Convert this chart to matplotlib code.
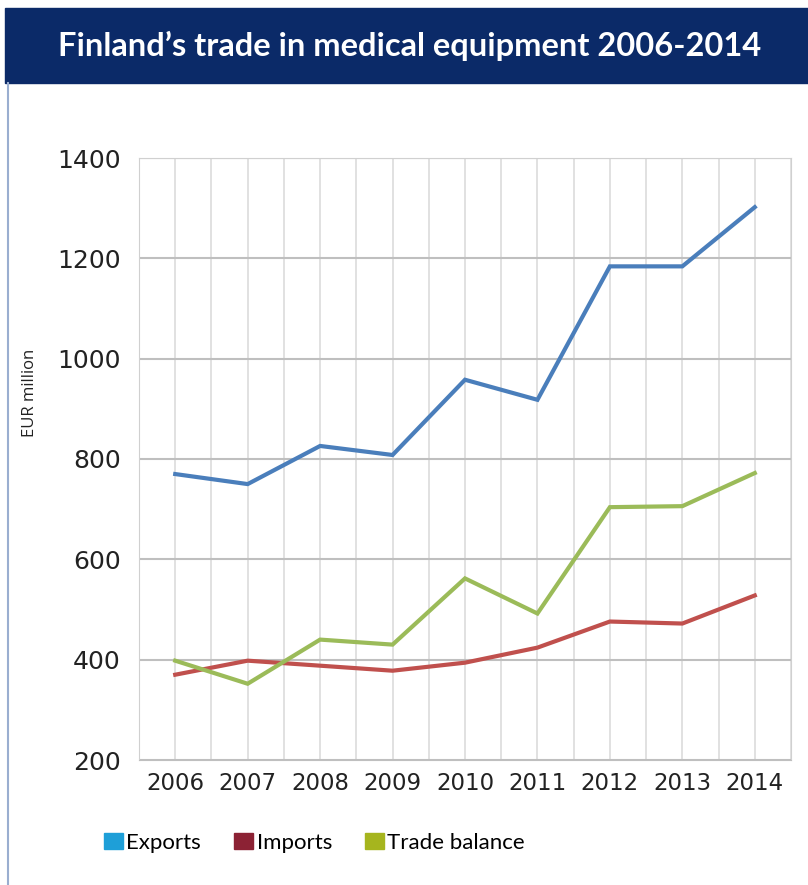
import matplotlib
matplotlib.use("Agg")
import matplotlib.pyplot as plt
from matplotlib.patches import Rectangle, Patch
from matplotlib.lines import Line2D
import numpy as np

years = [2006, 2007, 2008, 2009, 2010, 2011, 2012, 2013, 2014]
exports = [770, 750, 826, 808, 958, 918, 1184, 1184, 1302]
imports = [370, 398, 388, 378, 394, 424, 476, 472, 528]
balance = [398, 352, 440, 430, 562, 492, 704, 706, 772]

title = "Finland\u2019s trade in medical equipment 2006-2014"
ylabel = "EUR million"
legend_labels = ["Exports", "Imports", "Trade balance"]

line_colors = ["#4a7ebb", "#c0504d", "#9bbb59"]
legend_colors = ["#1e9fd8", "#8c2234", "#a6b51e"]


def main():
    fig = plt.figure(figsize=(8.08, 8.85), dpi=100)
    W, H = 808, 885

    # title banner + left frame line
    fig.patches.append(Rectangle((5 / W, 1 - 83 / H), 1, 75 / H,
                                 transform=fig.transFigure, color="#0b2a68", zorder=0))
    fig.lines.append(Line2D([8 / W, 8 / W], [0, 1 - 83 / H], transform=fig.transFigure,
                            color="#9aaed0", lw=1.5))
    fig.text(410 / W, 1 - 46 / H, title, ha="center", va="center", color="white",
             fontsize=23.5, fontweight="bold", family="Lato")

    ax = fig.add_axes([139 / W, 1 - 760 / H, 652 / W, 602 / H])
    for y, c in zip([exports, imports, balance], line_colors):
        ax.plot(years, y, color=c, lw=3, solid_joinstyle="miter", zorder=3)

    ax.set_xlim(2005.5, 2014.5)
    ax.set_ylim(200, 1400)
    ax.set_xticks(years)
    ax.set_xticks(np.arange(2005.5, 2015, 1.0), minor=True)
    ax.set_yticks(range(200, 1401, 200))
    ax.grid(axis="y", which="major", color="#bfbfbf", lw=1.5)
    ax.grid(axis="x", which="both", color="#dcdcdc", lw=1.2)
    ax.tick_params(which="both", length=0)
    ax.tick_params(axis="y", labelsize=18, pad=13, colors="#222222")
    ax.tick_params(axis="x", labelsize=16.5, pad=9, colors="#222222")
    for s in ax.spines.values():
        s.set_color("#d0d0d0")
    ax.spines["bottom"].set_color("#bfbfbf")
    ax.set_axisbelow(True)
    ax.set_ylabel(ylabel, fontsize=12, family="Open Sans", color="#222222")
    ax.yaxis.set_label_coords(-0.155, 0.61)

    handles = [Patch(color=c) for c in legend_colors]
    fig.legend(handles, legend_labels, loc="center left",
               bbox_to_anchor=(84 / W, 1 - 843 / H), ncol=3, frameon=False,
               prop={"family": "Lato", "size": 16}, handlelength=0.85, handleheight=0.7,
               handletextpad=0.15, columnspacing=1.5)

    fig.savefig("out.png", dpi=100, facecolor="white")


if __name__ == "__main__":
    main()
